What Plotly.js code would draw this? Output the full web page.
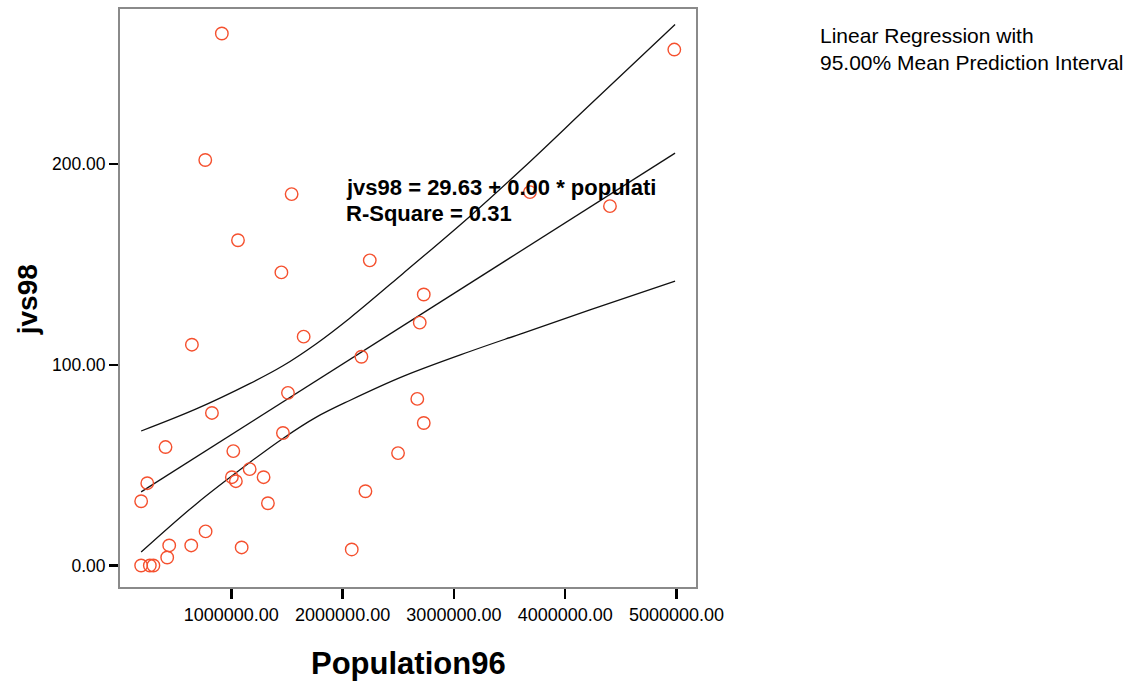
<!DOCTYPE html>
<html>
<head>
<meta charset="utf-8">
<script src="https://cdn.plot.ly/plotly-3.0.1.min.js"></script>
<style>
  html, body { margin: 0; padding: 0; background: #ffffff; }
  #chart { width: 1138px; height: 683px; }
</style>
</head>
<body>
<div id="chart"></div>
<script>
// Observed data: Population96 vs jvs98
const popX = [915000, 766000, 1542000, 1060000, 1450000, 2244000, 4980000, 3683000, 4402000, 2729000,
              646000, 1650000, 2169000, 826000, 1509000, 409000, 1464000, 1018000, 245000, 190000,
              1005000, 1041000, 1165000, 1290000, 1329000, 769000, 442000, 640000, 1093000, 424000,
              190000, 268000, 300000, 2082000, 2205000, 2498000, 2671000, 2729000, 2693000];
const jvsY = [265, 202, 185, 162, 146, 152, 257, 186, 179, 135,
              110, 114, 104, 76, 86, 59, 66, 57, 41, 32,
              44, 42, 48, 44, 31, 17, 10, 10, 9, 4,
              0, 0, 0, 8, 37, 56, 83, 71, 121];

// Fitted line (read at its two ends)
const fitLineX = [190000, 4987000];
const fitLineY = [36.7, 205.4];

// 95% mean prediction interval
const bandX = [190000, 685000, 1165000, 1464000, 1764000, 2064000, 2543000, 3143000, 3622000, 4222000, 4987000];
const bandUpper = [67.0, 78.0, 90.6, 99.5, 110.5, 123.2, 145.5, 173.9, 198.0, 229.5, 269.5];
const bandLower = [6.7, 30.7, 51.3, 63.3, 73.9, 82.2, 94.2, 106.6, 115.8, 127.3, 141.6];

const xTicks = [1000000, 2000000, 3000000, 4000000, 5000000];
const yTicks = [0, 100, 200];

const FONT = 'Liberation Sans, Arial, Helvetica, sans-serif';
const lineStyle = { color: '#111111', width: 1.3 };
const bandStyle = { color: '#111111', width: 1.3, shape: 'spline', smoothing: 1 };

const traces = [
  { x: bandX, y: bandUpper, type: 'scatter', mode: 'lines', line: bandStyle, hoverinfo: 'skip' },
  { x: fitLineX, y: fitLineY, type: 'scatter', mode: 'lines', line: lineStyle, hoverinfo: 'skip' },
  { x: bandX, y: bandLower, type: 'scatter', mode: 'lines', line: bandStyle, hoverinfo: 'skip' },
  { x: popX, y: jvsY, type: 'scatter', mode: 'markers',
    marker: { symbol: 'circle-open', size: 12.5, color: '#f5502e', line: { width: 1.4, color: '#f5502e' } } }
];

const layout = {
  width: 1138, height: 683,
  margin: { l: 120, r: 442, t: 9, b: 96, pad: 0 },
  paper_bgcolor: '#ffffff', plot_bgcolor: '#ffffff',
  showlegend: false,
  font: { family: FONT, color: '#000000' },
  xaxis: {
    range: [0, 5175000], tickvals: xTicks, tickformat: '.2f',
    showgrid: false, zeroline: false,
    showline: true, mirror: true, linecolor: '#8a8a8a', linewidth: 2,
    ticks: 'outside', ticklen: 10, tickwidth: 2.5, tickcolor: '#000000',
    tickfont: { family: FONT, size: 18, color: '#000000' }
  },
  yaxis: {
    range: [-10.7, 277.2], tickvals: yTicks, tickformat: '.2f',
    showgrid: false, zeroline: false,
    showline: true, mirror: true, linecolor: '#8a8a8a', linewidth: 2,
    ticks: 'outside', ticklen: 9, tickwidth: 2.5, tickcolor: '#000000',
    tickfont: { family: FONT, size: 17.5, color: '#000000' }
  },
  annotations: [
    { text: '<b>jvs98 = 29.63 + 0.00 * populati</b>', xref: 'paper', yref: 'paper',
      x: 0.389, y: 0.692, xanchor: 'left', yanchor: 'middle', showarrow: false,
      font: { family: FONT, size: 22, color: '#000000' } },
    { text: '<b>R-Square = 0.31</b>', xref: 'paper', yref: 'paper',
      x: 0.389, y: 0.647, xanchor: 'left', yanchor: 'middle', showarrow: false,
      font: { family: FONT, size: 22, color: '#000000' } },
    { text: 'Linear Regression with', xref: 'paper', yref: 'paper',
      x: 1.2125, y: 0.955, xanchor: 'left', yanchor: 'middle', showarrow: false,
      font: { family: FONT, size: 21, color: '#000000' } },
    { text: '95.00% Mean Prediction Interval', xref: 'paper', yref: 'paper',
      x: 1.2125, y: 0.908, xanchor: 'left', yanchor: 'middle', showarrow: false,
      font: { family: FONT, size: 21, color: '#000000' } },
    { text: '<b>jvs98</b>', xref: 'paper', yref: 'paper', textangle: -90,
      x: -0.161, y: 0.4965, xanchor: 'center', yanchor: 'middle', showarrow: false,
      font: { family: FONT, size: 28, color: '#000000' } },
    { text: '<b>Population96</b>', xref: 'paper', yref: 'paper',
      x: 0.5, y: -0.1315, xanchor: 'center', yanchor: 'middle', showarrow: false,
      font: { family: FONT, size: 31, color: '#000000' } }
  ]
};

Plotly.newPlot('chart', traces, layout, { displayModeBar: false, staticPlot: true });
</script>
</body>
</html>
